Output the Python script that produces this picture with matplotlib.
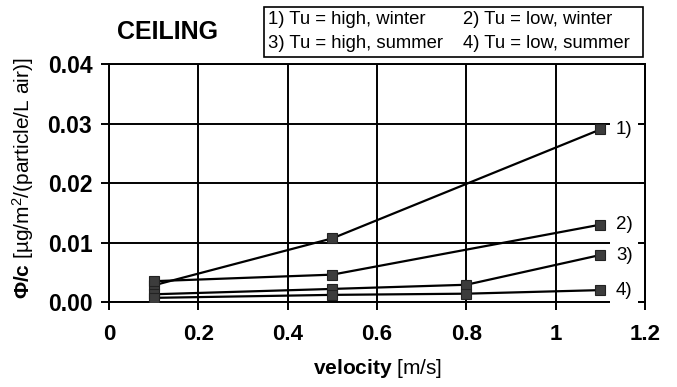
import matplotlib
matplotlib.use('Agg')
import matplotlib.pyplot as plt
from matplotlib.patches import Rectangle

plt.rcParams['font.family'] = 'Liberation Sans'
plt.rcParams['mathtext.fontset'] = 'custom'
plt.rcParams['mathtext.rm'] = 'Liberation Sans'
plt.rcParams['mathtext.bf'] = 'Liberation Sans:bold'
plt.rcParams['mathtext.it'] = 'Liberation Sans:italic'

# data
vel_12 = [0.1, 0.5, 1.1]
vel_34 = [0.1, 0.5, 0.8, 1.1]
tu_high_winter = [0.0028, 0.0107, 0.0290]
tu_low_winter = [0.0035, 0.0046, 0.0130]
tu_high_summer = [0.0013, 0.0022, 0.0029, 0.0079]
tu_low_summer = [0.0007, 0.0012, 0.0014, 0.0020]
curve_tags = ['1)', '2)', '3)', '4)']
legend_lines = ['1) Tu = high, winter', '2) Tu = low, winter',
                '3) Tu = high, summer', '4) Tu = low, summer']
xticks = [0, 0.2, 0.4, 0.6, 0.8, 1.0, 1.2]
xticklabels = ['0', '0.2', '0.4', '0.6', '0.8', '1', '1.2']
yticks = [0.0, 0.01, 0.02, 0.03, 0.04]
yticklabels = ['0.00', '0.01', '0.02', '0.03', '0.04']

fig = plt.figure(figsize=(6.77, 3.87), dpi=100)
ax = fig.add_axes([0.161, 0.2196, 0.7917, 0.615])

series = [(vel_12, tu_high_winter), (vel_12, tu_low_winter),
          (vel_34, tu_high_summer), (vel_34, tu_low_summer)]
for (x, y), tag in zip(series, curve_tags):
    ax.plot(x, y, color='black', lw=1.6, marker='s', ms=7.5,
            mfc='#3c3c3c', mec='#222222', mew=0.8, zorder=3)
    ax.text(x[-1] + 0.035, y[-1], tag, fontsize=13.5, va='center', ha='left',
            zorder=5, clip_on=False,
            bbox=dict(boxstyle='square,pad=0.3', fc='white', ec='none'))

ax.set_xlim(0, 1.2)
ax.set_ylim(0, 0.04)
ax.set_xticks(xticks)
ax.set_xticklabels(xticklabels, fontsize=16, fontweight='bold')
ax.set_yticks(yticks)
ax.set_yticklabels(yticklabels, fontsize=16.5, fontweight='bold')
ax.set_axisbelow(True)
ax.grid(True, color='black', lw=1.4)
ax.tick_params(axis='x', direction='out', length=6, width=1.4, pad=10)
ax.tick_params(axis='y', direction='out', length=6, width=1.4, pad=6)
for s in ax.spines.values():
    s.set_linewidth(1.4)

sec = ax.secondary_yaxis('right')
sec.set_yticks(yticks)
sec.tick_params(direction='in', length=4, width=1.4, labelright=False)
sec.spines['right'].set_linewidth(1.4)

fig.text(23 / 677, 1 - 178 / 387,
         r'$\mathbf{Φ/c}$ [µg/m$^2$/(particle/L air)]',
         rotation=90, ha='center', va='center', fontsize=15)
fig.text(378 / 677, 1 - 369 / 387, r'$\mathbf{velocity}$ [m/s]',
         ha='center', va='center', fontsize=15)

fig.text(168 / 677, 1 - 32 / 387, 'CEILING', ha='center', va='center',
         fontsize=18, fontweight='bold')

fig.patches.append(Rectangle((264 / 677, 1 - 57 / 387), (643 - 264) / 677,
                             50 / 387, transform=fig.transFigure,
                             fill=False, ec='black', lw=1.2))
col_x = [268 / 677, 463 / 677]
row_y = [1 - 19 / 387, 1 - 43 / 387]
for i, txt in enumerate(legend_lines):
    fig.text(col_x[i % 2], row_y[i // 2], txt, ha='left', va='center',
             fontsize=13.3)

fig.savefig('out.png', dpi=100)
